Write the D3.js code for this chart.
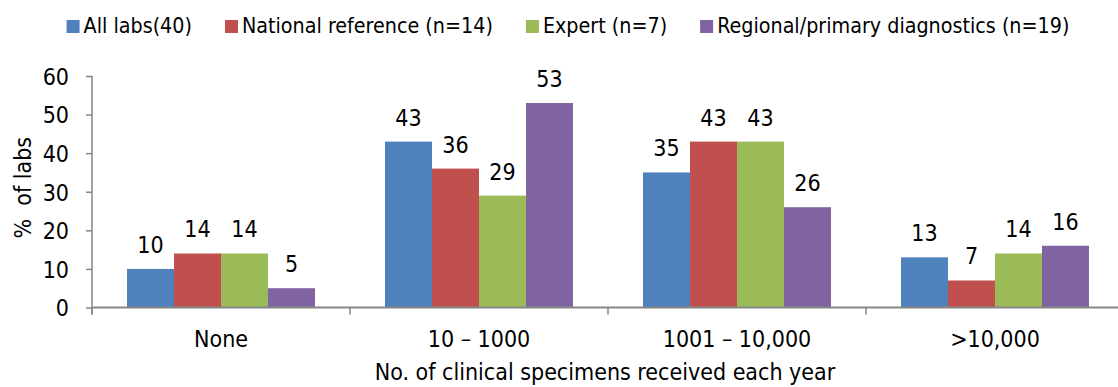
<!DOCTYPE html>
<html><head><meta charset="utf-8">
<script src="https://cdn.jsdelivr.net/npm/d3@7"></script>
<style>
html,body{margin:0;padding:0;background:#fff;}
svg text{font-family:"DejaVu Sans Condensed","DejaVu Sans",sans-serif;font-stretch:condensed;fill:#000;}
</style></head><body>
<svg id="chart" width="1118" height="387"></svg>
<script>
// Share of labs by number of clinical specimens received each year
const categories = ["None", "10 – 1000", "1001 – 10,000", ">10,000"];
const seriesNames = ["All labs(40)", "National reference (n=14)", "Expert (n=7)", "Regional/primary diagnostics (n=19)"];
const allLabs = [10, 43, 35, 13];
const nationalRef = [14, 36, 43, 7];
const expert = [14, 29, 43, 14];
const regional = [5, 53, 26, 16];
const seriesColors = ["#4F81BD", "#C0504D", "#9BBB59", "#8064A2"];
const yTicks = [0, 10, 20, 30, 40, 50, 60];
const yTitle = "%  of labs";
const xTitle = "No. of clinical specimens received each year";

const seriesValues = [allLabs, nationalRef, expert, regional];
const table = categories.map((c, i) => ({
  category: c,
  values: seriesNames.map((s, j) => ({ series: s, idx: j, value: seriesValues[j][i] }))
}));

const svg = d3.select("#chart");
const W = 1118, H = 387;
const plotLeft = 92, plotRight = 1124, plotTop = 76, plotBottom = 307.5;
const axisColor = "#868686";
const axisFont = 23, legendFont = 21.3;

const x0 = d3.scaleBand().domain(categories).range([plotLeft, plotRight]).padding(0);
const x1 = d3.scaleBand().domain(d3.range(seriesNames.length)).range([0, x0.bandwidth()]).paddingInner(0).paddingOuter(0.745);
const y = d3.scaleLinear().domain([0, 60]).range([plotBottom, plotTop]);

// bars
const groups = svg.append("g").selectAll("g").data(table).join("g")
  .attr("transform", d => `translate(${x0(d.category)},0)`);
groups.selectAll("rect").data(d => d.values).join("rect")
  .attr("x", d => x1(d.idx))
  .attr("y", d => y(d.value))
  .attr("width", x1.bandwidth())
  .attr("height", d => y(0) - y(d.value))
  .attr("fill", d => seriesColors[d.idx]);

// value labels
groups.selectAll("text.val").data(d => d.values).join("text")
  .attr("class", "val")
  .attr("x", d => x1(d.idx) + x1.bandwidth() / 2)
  .attr("y", d => y(d.value) - 16)
  .attr("text-anchor", "middle")
  .style("font-size", axisFont + "px")
  .text(d => d3.format("d")(d.value));

// y axis
const yAxis = svg.append("g").attr("transform", `translate(${plotLeft},0)`)
  .call(d3.axisLeft(y).tickValues(yTicks).tickSize(6).tickPadding(17).tickFormat(d3.format("d")));
yAxis.select(".domain").attr("stroke", axisColor).attr("stroke-width", 1.5)
  .attr("d", `M0,${plotTop}V${plotBottom + 7}`);
yAxis.selectAll(".tick line").attr("stroke", axisColor).attr("stroke-width", 1.5);
yAxis.selectAll(".tick text").style("font-size", axisFont + "px").attr("fill", "#000").attr("dy", "0.36em");

// x axis
const xAxis = svg.append("g");
xAxis.append("line").attr("x1", plotLeft).attr("x2", W).attr("y1", plotBottom).attr("y2", plotBottom)
  .attr("stroke", axisColor).attr("stroke-width", 2);
const bounds = categories.map(c => x0(c)).concat([x0.range()[1]]);
xAxis.selectAll("line.tk").data(bounds).join("line").attr("class", "tk")
  .attr("x1", d => d).attr("x2", d => d).attr("y1", plotBottom).attr("y2", plotBottom + 7)
  .attr("stroke", axisColor).attr("stroke-width", 1.5);
xAxis.selectAll("text").data(categories).join("text")
  .attr("x", d => x0(d) + x0.bandwidth() / 2)
  .attr("y", 347)
  .attr("text-anchor", "middle")
  .style("font-size", axisFont + "px")
  .text(d => d);

// axis titles
svg.append("text").attr("x", (plotLeft + plotRight) / 2 - 3).attr("y", 380)
  .attr("text-anchor", "middle").style("font-size", axisFont + "px").text(xTitle);
svg.append("text").attr("transform", `translate(31,${(plotTop + plotBottom) / 2 - 4}) rotate(-90)`)
  .attr("text-anchor", "middle").style("font-size", axisFont + "px").style("white-space", "pre").text(yTitle);

// legend
const legend = svg.append("g");
const items = legend.selectAll("g").data(seriesNames).join("g");
items.append("rect").attr("width", 13).attr("height", 13).attr("y", -13).attr("fill", (d, i) => seriesColors[i]);
items.append("text").attr("x", 17).attr("y", 0).style("font-size", legendFont + "px").text(d => d);
let cx = 0;
items.each(function () {
  const g = d3.select(this);
  g.attr("transform", `translate(${cx},33)`);
  cx += 17 + g.select("text").node().getComputedTextLength() + 33;
});
const legendWidth = cx - 33;
legend.attr("transform", `translate(${568 - legendWidth / 2},0)`);
</script>
</body></html>
